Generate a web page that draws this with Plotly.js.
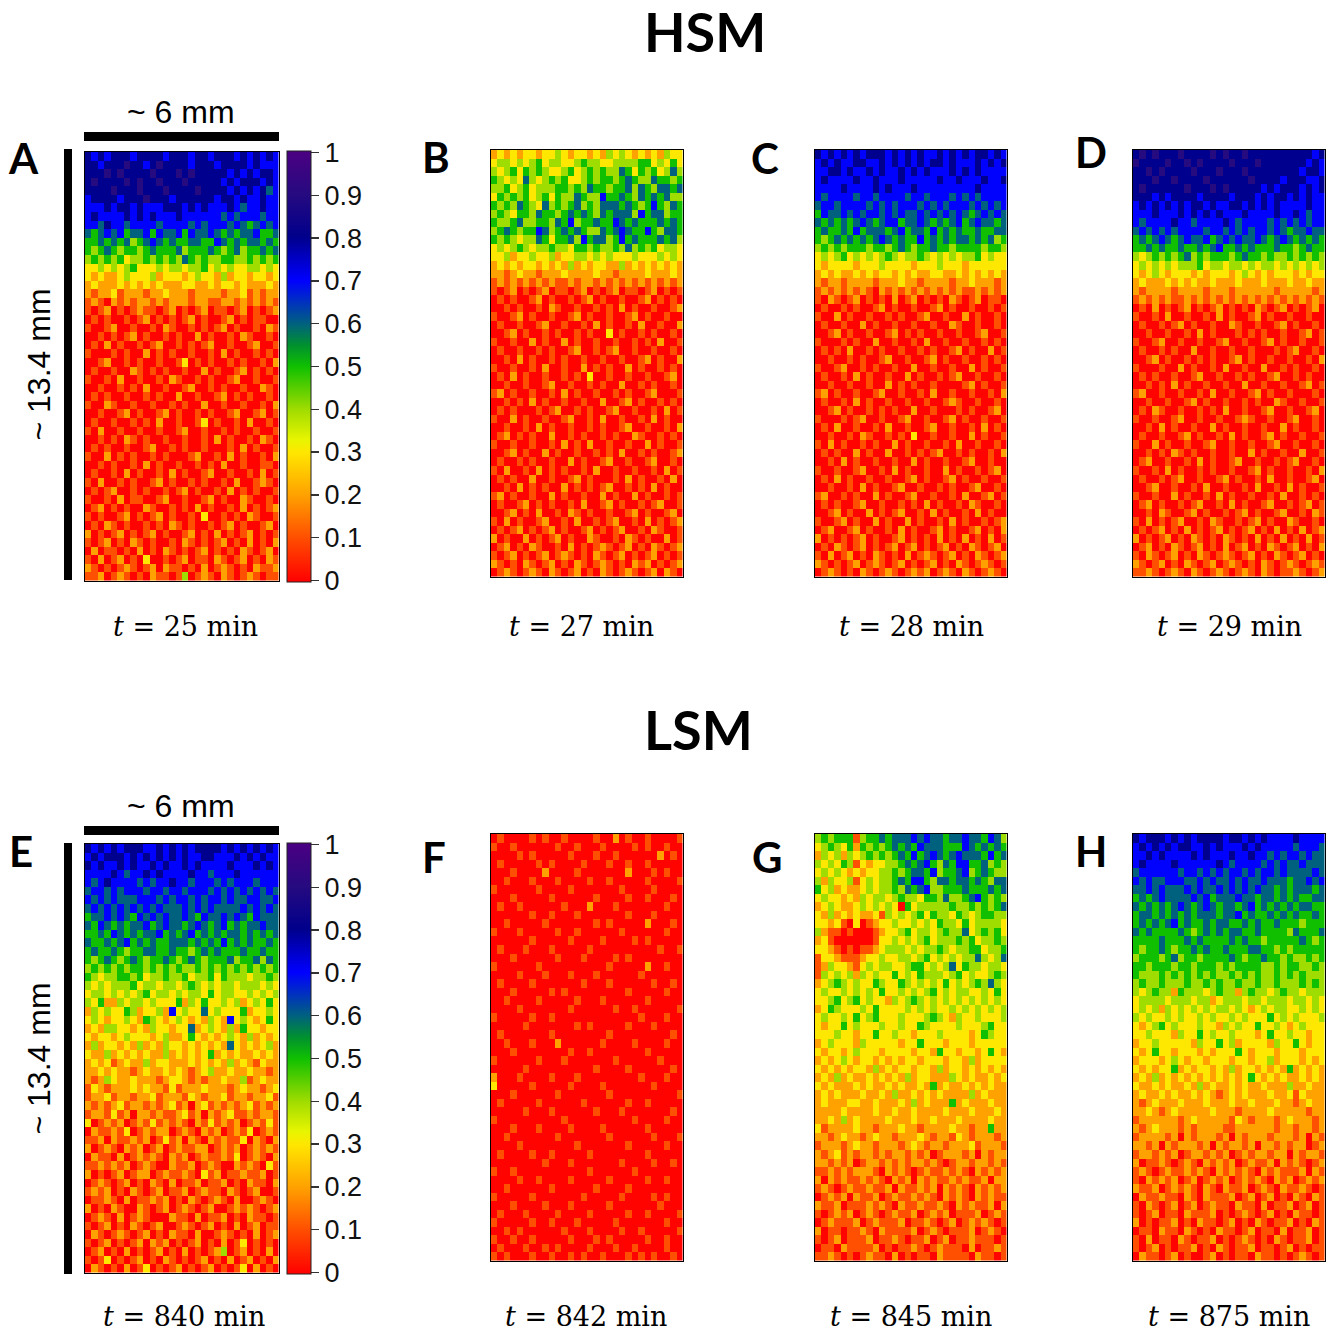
<!DOCTYPE html>
<html><head><meta charset="utf-8">
<script src="https://cdn.plot.ly/plotly-3.0.1.min.js"></script>
<style>html,body{margin:0;padding:0;background:#fff}</style></head><body>
<div id="chart" style="width:1328px;height:1334px"></div>
<script>
// Values on a coarse grid; each character = value x 10.
const panelA = [
"878788878888788878878887878787","887888988789888878887888878777","888989888898889898888878787887","898888989889888988888787888787","888898889888988889888878787867",
"788887888988878888887887877877","777878878777888787877787677877","787777878787778777777676777677","776877677776777767677767656767","656767566757667576676565667556",
"556565645676565566557656566565","545654554565556455565456455656","454545344545454654544554454545","334343453334344344534343344343",
"323223433342333234332423323323","232223232323222332232332322232","212231222122322212222122312122","121021212212122212211221212121",
"101201012110120101201101201012","010100101201010120100120101100","100120010010210010101201001021","001010120100101002010010210010",
"010201001012001010120010012001","100010100201010010010201001010","001200101001001301010010100102","010010021010100100201001201010",
"100102001001021001010012001001","001001010200100120010100100210","010100100101002001001201010010","100210010010010100200100100102",
"001001201001201001010012001201","010010010102001001301001020010","102001001001001200100101001001","001010210100100100102010010210",
"010100100120010100100010201001","100201010010100012001020100102","001010010201001001010200100110","010010201001020100120010010201",
"102001010012010010100102001210","010120010100101201001020101001","100102011001200100120100210010","012010100210010102010010201012",
"101001201012010010300101021001","010210100101021010010120100120","201012010120100120102010120101","101201021010010210101201020102",
"020110102010210101201010210120","102012010300101201102101201021","210101210120211010201210102112","112012101021101401210210121011"];
const panelB = [
"232323323343233232434323232433","344343453443345443344445534353","434535454334534545446535453464","543436434545334545545654465545","445345344455454655455646546656",
"354545345354465447556546565644","545465436454564546665654575465","454355465545656546566647566455","544564455465745565576565556565","456545576456565446567655754665",
"545434465355647566457565556564","343454344544355454454645453443","334233433423344343433343334343","232323323232423233224232323232",
"221232212223222232212222322232","121212121211212212121212121212","101201012011012010120110120101","010100120100101201001001201010",
"001010010210010010102010010012","100120100100120100100120100100","010010012001001020100102001002","001201001010010100301001010010",
"100100201002010010010010102001","010010010100120010120010010010","001020100101001001001001201002","100100102001002010100201001010",
"010201001001010300100100100120","001001001200100101002001010010","120100100102010010010100120001","001010201001001002001201001010",
"010100010120010100120010010201","100201001001200102001001020100","001001020100100101001200100102","012010100200101001010021001010",
"100100100102010200100100201001","001201002010010010102001010012","010010100100201001200100120010","102001020101001020010010010201",
"010100200100120100010201001020","001020101002010101200101020100","120100100201001002010020100101","010012010100102001201001012001",
"001201020010210100100120100120","102010012001020010120010201012","010120101201001201012001021001","201002010120100210010210100201",
"012010210010201012101201021012","101201012012101021012010120101","210102101201021012101021201012","012101210210120102101210120210"];
const panelC = [
"878787878887878787787878788787","787877887787878787887877787878","778878778787787878777878787777","787777877877787777787787778778","777787777878777877777777787777",
"767777677677776776777676767777","677677776767677767676777676767","576676767767676676767676567676","656565676567756676565675676656","565565756665675665756565565566",
"545656565676565575656566565645","454545554554565455655455554554","343453434345434454343434453433","323333233343333233343332333333",
"232322323233232322332232323232","212212222122232212222122322212","121212121021212121212121121212","102101201010201201010210120110",
"010010100120100100120100100101","100201001001010012001002010010","010010020100100100100210010010","001201001001201010010010012001",
"100010100200100102001001001010","010102001010010010100120100201","001001010012001001201001001010","100120010100100200100100201001",
"010010201001002010010120010010","001001001002010100100001201001","120100100120010010200100100102","010010201001001001001210010010",
"001201001010100200100010100120","100010120010012001001201001001","010200100102001001200100102010","001001021001010300100100201001",
"102010010100201001001020010010","010100201002001010120010100102","001020100100100201001001200100","100100120010201001002010010120",
"010201001001001201001201001001","001001020100120010010100120010","120010100201001200100102001201","010100120010010102010010210010",
"001201002010120010201001020100","100120100201002010010201001012","012001201001020100120100120102","201010120100120101020102010201",
"010210120101201201012010210120","102012010210102012101201021012","210101201210120101201021012101","012101021012101212012102101210"];
const panelD = [
"898988898888989889888888888878","988889889898888988898888888787","889898888988898889888888887887","888988988889888888988887888778","898888889888989888887878887878",
"888787888878888788878788787877","787878787887877887878787777877","777877787878787778777787787677","767777877677778767777676767677","676767677776776767677676566766",
"565676567667567676676567656565","556565565565675565655565545655","434545456454555456554544545454","343434344453443443434434343434",
"323432333232333234323233323233","232223232322322232223222322322","212222122221222122222212222212","121212112121212121212121212121",
"010201012010120101021012010120","100102001001020100120100100100","010010120100100210010012010010","001001001020100010101001001201",
"100120010010012001001201001001","010010100200100100100010120010","001201001010100120100100100102","100010020100102001002001010010",
"010100100120010010100120010100","001010201001001002001001001201","120010010010200100120100100010","001001001201001001010021001001",
"010210010010102001001200100120","100100120010010012100100120010","001020100100201001001002010010","010010012010010201001201001001",
"100201001001200100100120010010","001010210100100100201001002001","012001001020100120010010120010","100102010010100100120100100102",
"010010120010012010010200100120","001200100102001001020010201001","100100201001020100100102001010","012010010120010201001200101201",
"001021001201001012010012001021","102010120010210010120100210010","010120102010120101201020102012","201012010210102101020102010201",
"012010210120102012010210120102","102101201021012101201021012010","210120102101201210102101210121","112101210210121012102101121012"];
const panelE = [
"878787888778787878888787878787","787888787878787877887778787877","878778787787877878777787778787","777787677878777787767778777777",
"767877776767787767776767776777","677676777677677677767676767676","767676667776767767677676677667","676767676767666767676666767676",
"566767657676766765766767657666","657656566756766567656756566766","556576565667565675656566565656","655656756565566656565756565565",
"565565455665565545656555655655","545654565455654565455564556465","454545455454545445454545454545","543445545344544534453544434454",
"434344453443443454343443444343","344343434534434344353443343434","435224344343335243533434234353","243433542334273433634333523343",
"343233432543234323243273432353","232443323243323362343242533233","323323433323422353232343242323","242332324232433232323263232342",
"322423232322423232352323223232","232312322423322232323242321322","223232212322323212342232232212","212432232221233212122322412322",
"132122232322131222322212322123","122312212231222132122312212231","212123122121231202312121231212","122131202212112312021231121221",
"301212012131212102131212012131","021121301212201210212012130121","112021121201312021021211302102","201210212012012112201212012121",
"021102012121021201211213012102","112121201210021120121002121031","201012012201211210312011211201","012101201021020112011201021102",
"121201021012011201211021012001","011210201121201021012102001210","201021002101201210120012121012","012102012100021102011201021101",
"101201021012001210120102012011","021012101201021102001210102012","101201012021201012010201301010","012010201012010201012401201020",
"101301012010210101201020120102","021010201301012010120101302010"];
const panelF = [
"010000101001000010020100100001","100100000010010001000010100100","000010100000100010010000002010","010000010100001000100100100000",
"000100002000010000000200010100","001000100010000100100000100001","100000010000100000001000010000","000100000100000010000100100010",
"010010000001000200010000000100","000000100100010000000100010000","001000001000000010100000200010","100010000010010000001000000100",
"000000100000100001000010100000","010001000100000100000000001001","000100000010001000010100000000","100000010000000000100000200100",
"000010001000100010000001000000","010000100000001000100000010010","000100000101000000000100000100","001000010000010001000000100000",
"000010000000100000010010000001","100000100100000000000001000100","000001000000010100000100010000","010000000100000000100000000010",
"001000100020000001000010000100","000100000000100100000000100000","100000010001000000010000001000","000001000000000010000100000010",
"200010000100010000000001000100","300000100000100001000000010000","000100000010000000100000000001","010000010000001000000100100000",
"000001000100000010001000000010","100000000001000000000010000100","000100010000100001000000100000","001000000010000000100000010001",
"000010000000010000000100000100","010000100100000100000000100000","000000001000100000001000010010","100100000000000100000010000000",
"000010010000100000100000100100","001000000100000010000100000000","100000100000001000001000010100","000100001000100000100000001000",
"010001000010000100000100100001","100000100100010000010000000100","001010000001000100001001000001","100100100000100010100000100100",
"010001001010000100010010000100","101000100100101001000101010010"];
const panelG = [
"454555145565666767665667665764","345435254545656576665557656565","243424345454565756765676665756","434354132334456567546577556454","343432323344545665745567456544",
"424334134344565775466566565466","534232234344546567445556555656","343323243443454435546445675454","234322343434305344444544545456","324232322314343453544354345544",
"332310301233433434354435344443","421101000123345344345446345453","231000000133434345344454534454","332101011234443434454344553445",
"133211123343344345343434464346","124332134344334553434635443443","143434243433534354443453433454","234543433543354343435343454643",
"343343434353343434534344334353","334534534332434543434343434343","235433343533334343433434343434","343343534533343334543243343334",
"323353433343343354333343334533","333433233533433233343333235433","234333243333323353332333233333","323323433323333233253323323532",
"232343233232323323332332423333","323232332423233233242332323232","232423223232324233222432322323","323222323223232232523223232322",
"232322232232422323232222423222","232223322322232423222523222322","222232222322322322223222322232","223242322223222322322232222322",
"312222322122232212222322122522","221232212322122232122132122212","122212322122212321221222312221","212312122121221212012221202122",
"221212012212121221210122122121","112121222102121012112121021212","202121121210212021211212112022","121012112112021121202121021212",
"012120211201211212102121021211","211201112121021121121021211202","101212012101211201212011120121","012111201211120112101201212101",
"201101121021111201210111201210","101201112011210112012011211101","011021111201011210121110201121","112101012110201011021111021101"];
const panelH = [
"878887878788887887878777787777","787878788778787778787777767776","778787777878777877877676776766","787777877777787677776767667666",
"677777767767676776767767666676","767667776676766767667666566767","667676667676676767676656566656","565676666767566676656656565566",
"656565676567656656756565656655","566565656566656675655656565565","565656756556566556565565554555","656555565456565665565555465556",
"555565556565555656554555556545","545565455656556555665545455555","455545645545555654556554544545","554555455455545455554454554454",
"544454545454544545454454545444","454454445445454454454454445454","434544254443454424544345443444","344443444344234443443444344343",
"343424343434344343234344334343","434334343343433434333534343334","323453433343324343353343234333","334333243353433433323533433233",
"233433333243353423333243353233","323533233323233353233323332333","233323432332333233233423332323","323233523233232423323232523232",
"232423232323232323532323223232","322323223242322323223222422322","232232322323212323222322313222","212322232223222322322232212322",
"223212322222322212222322222122","122222212322222132122212322212","212322212122221122222212212212","122221202122212021222122212021",
"221202122212021221202212122012","122121201221212012122122021221","201121012102121201211202121012","121012112121021212102121112021",
"102121201201212012121021201212","211201212102102112012102112101","021121102102111201201201021021","102101201201211021102011201201",
"101201102111201012101201021101","201011201021101201021011201021","011021102101021101201102011201","102011021011201012101021011201",
"101201011201021011201101201011","021101201001201011021101012101"];

const panelRows = [panelA,panelB,panelC,panelD,panelE,panelF,panelG,panelH];
const panelNames = ["A","B","C","D","E","F","G","H"];
const timeLabels = ["25","27","28","29","840","842","845","875"];
const colorTicks = [0,0.1,0.2,0.3,0.4,0.5,0.6,0.7,0.8,0.9,1];
const colorTickText = ["0","0.1","0.2","0.3","0.4","0.5","0.6","0.7","0.8","0.9","1"];

const W=1328,H=1334;
const px=x=>x/W, py=y=>1-y/H;
const boxes=[[85,278.5,152,580.5],[491,682.5,150,576.5],[815,1006.5,150,576.5],[1133,1324.5,150,576.5],
             [85,278.5,844,1272.5],[491,682.5,834,1260.5],[815,1006.5,834,1260.5],[1133,1324.5,834,1260.5]];
const barTops=[151,0,0,0,843];
const letterPos=[[23,158],[436,157],[765,158],[1091,152],[21,851],[434,857],[767,857],[1091,851]];
const timePos=[[185,626],[581,626],[911,626],[1229,626],[184,1316],[586,1316],[911,1316],[1229,1316]];
const colorscale=[[0,"#ff0000"],[0.1,"#ff4c00"],[0.2,"#ffa000"],[0.3,"#ffe600"],[0.33,"#e8f500"],[0.4,"#a0dc00"],
 [0.5,"#10c000"],[0.55,"#009030"],[0.6,"#006080"],[0.65,"#0030c0"],[0.7,"#0000ff"],[0.8,"#00008c"],[0.9,"#260a80"],[1,"#4b0082"]];

const traces=[],layout={width:W,height:H,margin:{l:0,r:0,t:0,b:0,pad:0,autoexpand:false},paper_bgcolor:"#fff",plot_bgcolor:"#fff",
  showlegend:false,shapes:[],annotations:[]};
const text=(x,y,t,size,family,extra)=>layout.annotations.push(Object.assign({xref:"paper",yref:"paper",x:px(x),y:py(y),text:t,showarrow:false,
  xanchor:"center",yanchor:"middle",font:{size:size,family:family,color:"#000"}},extra||{}));
const bar=(x0,x1,y0,y1)=>layout.shapes.push({type:"rect",xref:"paper",yref:"paper",x0:px(x0),x1:px(x1),y0:py(y0),y1:py(y1),fillcolor:"#000",line:{width:0}});

panelRows.forEach((rows,i)=>{
  const n=i?String(i+1):"", b=boxes[i];
  const t={type:"heatmap",z:rows.map(r=>r.split("").map(c=>+c/10)),xaxis:"x"+n,yaxis:"y"+n,zmin:-0.004,zmax:1.004,colorscale:colorscale,
    showscale:i===0||i===4,hoverinfo:"z",xgap:0,ygap:0};
  if(t.showscale) t.colorbar={thicknessmode:"pixels",thickness:24,lenmode:"pixels",len:431,x:px(287),xanchor:"left",xpad:0,
    y:py(barTops[i]),yanchor:"top",ypad:0,outlinewidth:1,outlinecolor:"#222",tickmode:"array",tickvals:colorTicks,ticktext:colorTickText,
    ticks:"outside",ticklen:8,tickwidth:1.5,tickcolor:"#333",tickfont:{family:"Liberation Sans",size:27,color:"#111"},tickprefix:"\u00a0\u200a\u200a"};
  traces.push(t);
  const common={showline:true,mirror:true,linecolor:"#000",linewidth:1.5,showticklabels:false,ticks:"",showgrid:false,zeroline:false,fixedrange:true};
  layout["xaxis"+n]=Object.assign({domain:[px(b[0]),px(b[1])],anchor:"y"+n,range:[-0.5,29.5]},common);
  layout["yaxis"+n]=Object.assign({domain:[py(b[3]),py(b[2])],anchor:"x"+n,range:[49.5,-0.5]},common);
  text(letterPos[i][0],letterPos[i][1],"<b>"+panelNames[i]+"</b>",42,"Lato");
  text(timePos[i][0],timePos[i][1],"<i>t</i> = "+timeLabels[i]+" min",27,"DejaVu Serif");
});
text(705,32,"<b>HSM</b>",54,"Lato");
text(698,729,"<b>LSM</b>",54,"Lato");
[[112,132,141,149,580],[806,826,835,843,1274]].forEach(r=>{
  text(181,r[0],"~ 6 mm",32,"Liberation Sans");
  bar(84,279,r[1],r[2]);
  bar(64,72,r[3],r[4]);
  text(38,(r[3]+r[4])/2,"~ 13.4 mm",32,"Liberation Sans",{textangle:-90});
});
Plotly.newPlot("chart",traces,layout,{displayModeBar:false,staticPlot:true});
</script></body></html>
